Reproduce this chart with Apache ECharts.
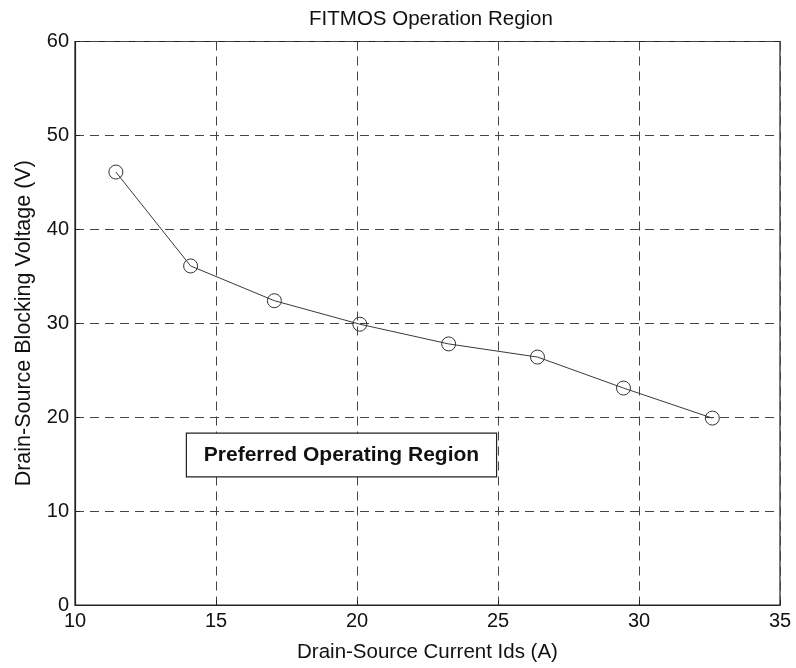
<!DOCTYPE html>
<html>
<head>
<meta charset="utf-8">
<script src="https://cdn.jsdelivr.net/npm/echarts@6/dist/echarts.min.js"></script>
<style>
  html, body { margin: 0; padding: 0; background: #fff; }
  #chart { width: 796px; height: 668px; }
</style>
</head>
<body>
<div id="chart"></div>
<script>
// Drain-source current (A) and the matching blocking voltage (V)
const currentIds = [11.45, 14.1, 17.07, 20.1, 23.25, 26.4, 29.45, 32.6];
const blockingVoltage = [46.1, 36.1, 32.4, 29.9, 27.8, 26.4, 23.1, 19.9];

const xTicks = [10, 15, 20, 25, 30, 35];
const yTicks = [0, 10, 20, 30, 40, 50, 60];

// Corners of the annotation box, in data units
const regionLabel = 'Preferred Operating Region';
const regionBox = [[13.95, 18.3], [24.95, 13.65]];

const chart = echarts.init(document.getElementById('chart'));
const fontFamily = 'Liberation Sans, Arial, sans-serif';

const option = {
  animation: false,
  backgroundColor: '#fff',
  title: {
    text: 'FITMOS Operation Region',
    left: 426,
    top: 4,
    textAlign: 'center',
    textStyle: { fontFamily, fontSize: 20.5, fontWeight: 'normal', color: '#111' }
  },
  grid: {
    left: 75, top: 41.5, right: 16, bottom: 63,
    show: true, borderColor: '#222', borderWidth: 1.2
  },
  xAxis: {
    type: 'value',
    min: xTicks[0], max: xTicks[xTicks.length - 1], interval: 5,
    name: 'Drain-Source Current Ids (A)',
    nameLocation: 'middle', nameGap: 37,
    nameTextStyle: { fontFamily, fontSize: 20.5, color: '#111' },
    axisLine: { lineStyle: { color: '#222', width: 1.2 } },
    axisTick: { inside: true, length: 5, lineStyle: { color: '#222' } },
    axisLabel: { fontFamily, fontSize: 20, color: '#111', margin: 6 },
    splitLine: { show: true, lineStyle: { color: '#444', type: [9, 6], width: 1 } }
  },
  yAxis: {
    type: 'value',
    min: yTicks[0], max: yTicks[yTicks.length - 1], interval: 10,
    name: 'Drain-Source Blocking Voltage (V)',
    nameLocation: 'middle', nameGap: 40,
    nameTextStyle: { fontFamily, fontSize: 21.5, color: '#111' },
    axisLine: { lineStyle: { color: '#222', width: 1.2 } },
    axisTick: { inside: true, length: 5, lineStyle: { color: '#222' } },
    axisLabel: { fontFamily, fontSize: 20, color: '#111', margin: 6 },
    splitLine: { show: true, lineStyle: { color: '#444', type: [9, 6], width: 1 } }
  },
  series: [{
    type: 'line',
    data: currentIds.map((x, i) => [x, blockingVoltage[i]]),
    symbol: 'circle',
    symbolSize: 14,
    itemStyle: { color: 'rgba(255,255,255,0)', borderColor: '#333', borderWidth: 1 },
    lineStyle: { color: '#3a3a3a', width: 1 },
    z: 3
  }]
};

chart.setOption(option);

// Annotation box placed through the axis scales
const p0 = chart.convertToPixel({ gridIndex: 0 }, regionBox[0]);
const p1 = chart.convertToPixel({ gridIndex: 0 }, regionBox[1]);
chart.setOption({
  graphic: [{
    type: 'group',
    z: 10,
    children: [{
      type: 'rect',
      shape: { x: p0[0], y: p0[1], width: p1[0] - p0[0], height: p1[1] - p0[1] },
      style: { fill: '#fff', stroke: '#222', lineWidth: 1.2 }
    }, {
      type: 'text',
      x: (p0[0] + p1[0]) / 2,
      y: (p0[1] + p1[1]) / 2,
      style: {
        text: regionLabel,
        fontFamily, fontSize: 21, fontWeight: 'bold', fill: '#111',
        align: 'center', verticalAlign: 'middle'
      }
    }]
  }]
});
</script>
</body>
</html>
